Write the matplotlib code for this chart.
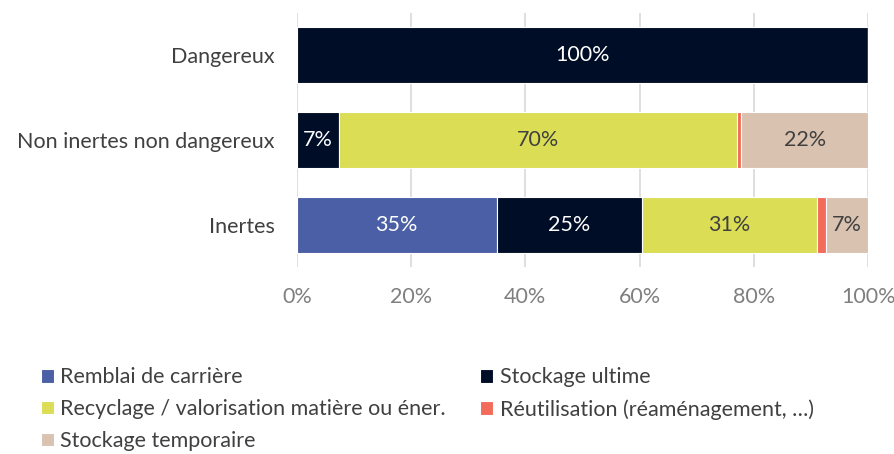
import matplotlib
matplotlib.use("Agg")
import matplotlib.pyplot as plt
import numpy as np

plt.rcParams['font.family'] = ['Lato', 'DejaVu Sans']

categories = ["Dangereux", "Non inertes non dangereux", "Inertes"]
series = [
    "Remblai de carrière",
    "Stockage ultime",
    "Recyclage / valorisation matière ou éner.",
    "Réutilisation (réaménagement, …)",
    "Stockage temporaire",
]
values = {
    "Remblai de carrière": [0.0, 0.0, 35.0],
    "Stockage ultime": [100.0, 7.4, 25.4],
    "Recyclage / valorisation matière ou éner.": [0.0, 69.7, 30.6],
    "Réutilisation (réaménagement, …)": [0.0, 0.7, 1.6],
    "Stockage temporaire": [0.0, 22.2, 7.4],
}
colors = ["#4A5FA5", "#000D26", "#DBDE55", "#F26B5B", "#D9C2B0"]
label_colors = ["white", "white", "#404040", None, "#404040"]

fig = plt.figure(figsize=(8.94, 4.54), dpi=100)
ax = fig.add_axes([0.332, 0.411, 0.639, 0.561])

y = np.arange(len(categories))
left = np.zeros(len(categories))
handles = []
for name, col, lc in zip(series, colors, label_colors):
    vals = np.array(values[name])
    b = ax.barh(y, vals, left=left, height=0.66, color=col,
                edgecolor="white", linewidth=0.8, label=name, zorder=3)
    handles.append(b)
    if lc is not None:
        for yi, v, l in zip(y, vals, left):
            if v >= 3:
                ax.text(l + v / 2, yi, f"{v:.0f}%", ha="center", va="center",
                        color=lc, fontsize=15.5, zorder=4)
    left += vals

ax.set_xlim(0, 100)
ax.set_ylim(len(categories) - 0.5, -0.5)
ax.set_yticks(y)
ax.set_yticklabels(categories, fontsize=15.5, color="#404040")
ax.set_xticks(np.arange(0, 101, 20))
ax.set_xticklabels([f"{t}%" for t in range(0, 101, 20)], fontsize=15.5, color="#7F7F7F")
ax.tick_params(length=0, pad=16, axis="y")
ax.tick_params(length=0, pad=14, axis="x")
ax.grid(axis="x", color="#D9D9D9", linewidth=1.2, zorder=0)
for s in ax.spines.values():
    s.set_visible(False)

order = [0, 2, 4, 1, 3]
fig.legend([handles[i] for i in order], [series[i] for i in order],
           loc="lower left", bbox_to_anchor=(0.024, -0.036), ncol=2,
           frameon=False, fontsize=15.5, handlelength=0.6, handleheight=0.6,
           handletextpad=0.3, columnspacing=1.6, labelspacing=0.55,
           labelcolor="#404040")

fig.savefig("out.png", dpi=100)
